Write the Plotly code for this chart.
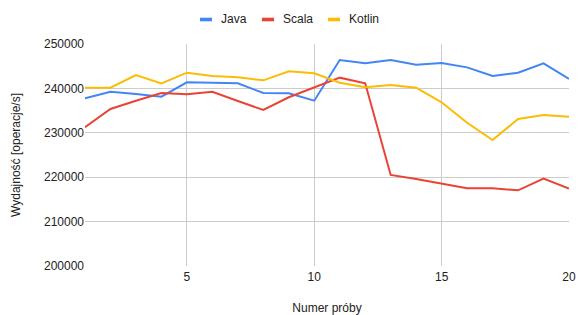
import plotly.graph_objects as go

trials = list(range(1, 21))
java = [237770, 239260, 238740, 238130, 241370, 241300, 241140, 238960, 238890, 237230,
        246400, 245650, 246400, 245350, 245720, 244740, 242790, 243540, 245650, 242120]
scala = [231240, 235360, 237230, 238960, 238670, 239260, 237160, 235140, 238000, 240240,
         242420, 241140, 220500, 219600, 218620, 217500, 217500, 217050, 219670, 217430]
kotlin = [240160, 240160, 243020, 241140, 243540, 242790, 242500, 241820, 243850, 243400,
          241290, 240240, 240770, 240160, 236870, 232270, 228380, 233110, 234010, 233630]

series = [("Java", java, "#4285F4"), ("Scala", scala, "#EA4335"), ("Kotlin", kotlin, "#FBBC04")]

W, H = 579, 315
L, R, T, B = 85, 10, 44, 49
pw, ph = W - L - R, H - T - B

fig = go.Figure()
for name, vals, col in series:
    fig.add_trace(go.Scatter(x=trials, y=vals, name=name, mode="lines",
                             line=dict(color=col, width=2), showlegend=False))

# custom compact legend (Google Charts style)
legend_sym_left = [200, 262, 328]
legend_y = 19.5
for (name, vals, col), sx in zip(series, legend_sym_left):
    x0 = (sx - L) / pw
    x1 = (sx + 12 - L) / pw
    yc = (H - B - legend_y) / ph
    fig.add_shape(type="rect", xref="paper", yref="paper",
                  x0=x0, x1=x1, y0=yc - 1.8 / ph, y1=yc + 1.8 / ph,
                  fillcolor=col, line=dict(width=0))
    fig.add_annotation(xref="paper", yref="paper", x=(sx + 19 - L) / pw, y=yc,
                       xanchor="left", yanchor="middle", text=name, showarrow=False,
                       font=dict(size=12, color="#222"))

font_family = "Liberation Sans, Arial, sans-serif"
fig.update_layout(
    width=W, height=H,
    margin=dict(l=L, r=R, t=T, b=B, autoexpand=False),
    paper_bgcolor="white", plot_bgcolor="white",
    font=dict(family=font_family, size=12, color="#444"),
    showlegend=False,
    xaxis=dict(range=[1, 20], tickvals=[5, 10, 15, 20], showgrid=True, automargin=False,
               gridcolor="#cccccc", gridwidth=1, zeroline=False, showline=False,
               ticks="", ticklen=0, ticklabelstandoff=2, tickfont=dict(size=12, color="#222"),
               title=dict(text="Numer próby", font=dict(size=12, color="#222"), standoff=24)),
    yaxis=dict(range=[200000, 250000], dtick=10000, tickformat="d", showgrid=True, automargin=False,
               gridcolor="#cccccc", gridwidth=1, zeroline=False, showline=False,
               ticks="", ticklen=0, tickfont=dict(size=12, color="#222"),
               title=dict(text="Wydajność [operacje/s]", font=dict(size=12, color="#222"), standoff=20)),
)
fig.write_html("out.html", config={"displayModeBar": False},
               post_script="document.body.style.margin='0px';")
